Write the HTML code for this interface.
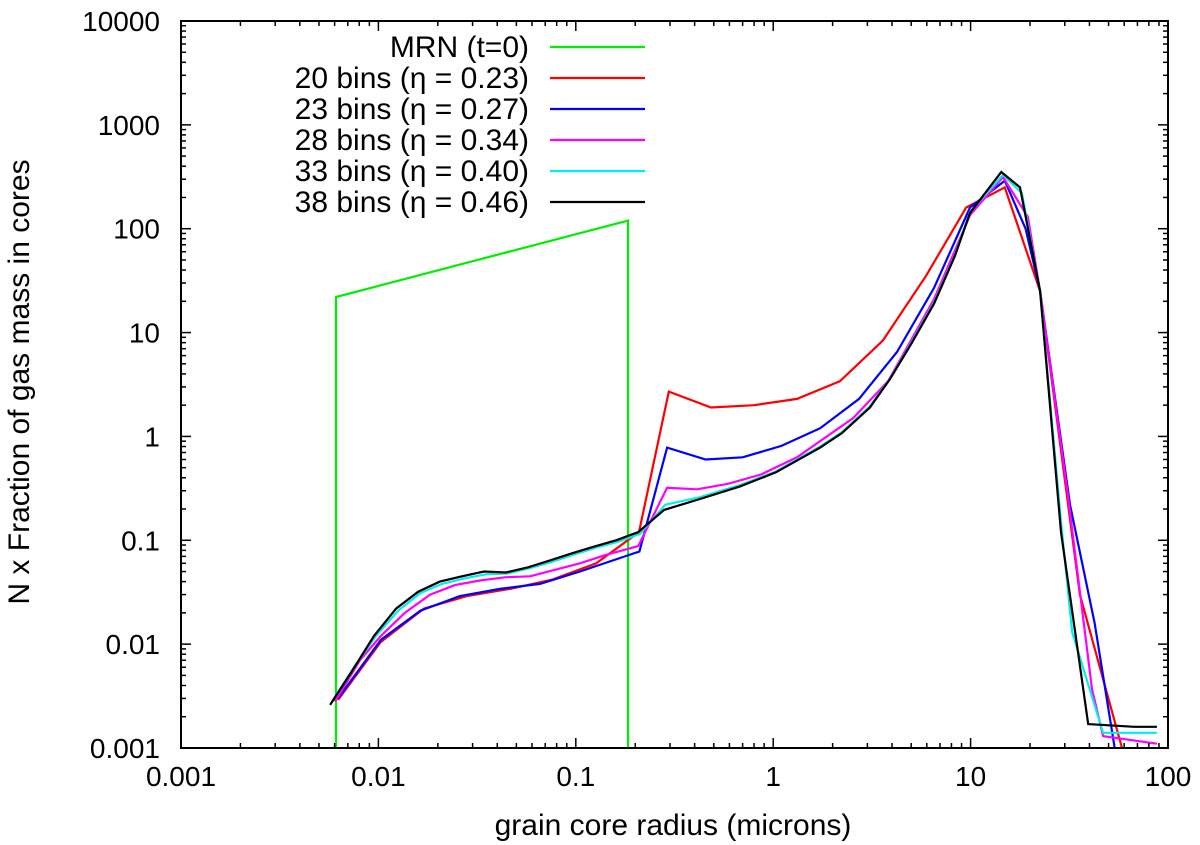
<!DOCTYPE html>
<html><head><meta charset="utf-8"><style>
html,body{margin:0;padding:0;background:#fff;}
svg{display:block;font-family:"Liberation Sans","DejaVu Sans",sans-serif;}
</style></head><body>
<svg id="chart" width="1200" height="845" viewBox="0 0 1200 845" xmlns="http://www.w3.org/2000/svg">
<defs><clipPath id="plotclip"><rect x="181" y="21" width="987" height="727"/></clipPath></defs>
<g id="series" clip-path="url(#plotclip)"></g>
<g id="axes"></g>
<g id="legend"></g>
</svg>
<script>
const xTickLabels = ["0.001","0.01","0.1","1","10","100"];
const yTickLabels = ["0.001","0.01","0.1","1","10","100","1000","10000"];

const mrnX = [0.0061,0.0061,0.184,0.184];
const mrnY = [0.001,22,120,0.001];

const red20X = [0.00624,0.0103,0.0170,0.0281,0.0464,0.0766,0.127,0.209,0.296,0.484,0.80,1.32,2.18,3.6,5.94,9.5,14.9,22.5,35.8,58.5,62.5];
const red20Y = [0.0029,0.0105,0.022,0.029,0.034,0.042,0.06,0.12,2.7,1.9,2.0,2.3,3.4,8.4,35,160,250,25,0.03,0.001,0.0007];

const blue23X = [0.00624,0.0103,0.0163,0.0259,0.0413,0.0659,0.105,0.21,0.29,0.455,0.70,1.10,1.73,2.72,4.24,6.53,9.93,14.9,19.0,22.5,31.9,42.5,53.7,60];
const blue23Y = [0.003,0.011,0.021,0.029,0.034,0.038,0.05,0.078,0.78,0.60,0.63,0.81,1.2,2.3,6.5,27,160,290,100,25,0.22,0.016,0.001,0.0006];

const mag28X = [0.00603,0.00807,0.0103,0.0136,0.0183,0.0244,0.0327,0.0438,0.0586,0.0785,0.105,0.141,0.207,0.290,0.411,0.590,0.867,1.32,2.54,3.82,6.53,9.93,14.6,19.5,22.5,31.1,41.2,46.9,87.9];
const mag28Y = [0.0028,0.007,0.012,0.020,0.030,0.037,0.041,0.044,0.045,0.052,0.06,0.072,0.088,0.32,0.31,0.35,0.43,0.63,1.5,3.4,21,135,315,130,25,0.27,0.0037,0.0013,0.0011];

const cyan33X = [0.00582,0.00752,0.00972,0.0126,0.0163,0.0210,0.0272,0.0351,0.0454,0.0586,0.0757,0.098,0.127,0.164,0.211,0.284,0.426,0.679,1.03,1.73,2.23,3.09,3.91,5.05,6.53,8.34,9.93,14.6,18.2,22.5,28.7,32.7,46.9,87.9];
const cyan33Y = [0.0028,0.006,0.012,0.021,0.031,0.038,0.043,0.047,0.048,0.054,0.062,0.073,0.085,0.097,0.115,0.22,0.26,0.34,0.46,0.80,1.1,1.95,3.6,8.2,19.5,56,145,330,220,25,0.15,0.013,0.0014,0.0014];

const black38X = [0.00569,0.00735,0.00950,0.0123,0.0159,0.0205,0.0265,0.0343,0.0443,0.0573,0.0740,0.0957,0.124,0.160,0.207,0.280,0.426,0.679,1.03,1.73,2.23,3.09,3.91,5.05,6.53,8.34,9.93,14.3,17.8,22.5,28.7,39.4,67.3,87.9];
const black38Y = [0.0026,0.0055,0.012,0.022,0.032,0.040,0.045,0.050,0.049,0.055,0.064,0.075,0.087,0.10,0.12,0.196,0.25,0.33,0.45,0.78,1.08,1.9,3.58,8,19,55,142,352,250,25,0.12,0.0017,0.0016,0.0016];

const L=181,R=1168,T=21,B=748;
const NS="http://www.w3.org/2000/svg";
function xs(v){return L+(Math.log10(v)+3)/5*(R-L);}
function ys(v){return B-(Math.log10(v)+3)/7*(B-T);}
function mk(tag,attrs,parent){const e=document.createElementNS(NS,tag);for(const k in attrs)e.setAttribute(k,attrs[k]);parent.appendChild(e);return e;}

const axes=document.getElementById('axes');
const frame=mk('rect',{x:L,y:T,width:R-L,height:B-T,fill:'none',stroke:'#000','stroke-width':2},axes);



for(let d=0;d<5;d++){
  for(let m=1;m<=9;m++){
    const v=Math.pow(10,d-3)*m; const x=xs(v); const len=m===1?10:5;
    if(m===1&&d===0)continue;
    const t1=mk('line',{x1:x,x2:x,y1:B,y2:B-len,stroke:'#000','stroke-width':1.5},axes);
    
    
    const t2=mk('line',{x1:x,x2:x,y1:T,y2:T+len,stroke:'#000','stroke-width':1.5},axes);
    
    
  }
}
xTickLabels.forEach((lab,i)=>{
  const t=mk('text',{x:xs(Math.pow(10,i-3)),y:786,'font-size':28,'text-anchor':'middle'},axes);
  t.textContent=lab;
  
  
});
for(let d=0;d<7;d++){
  for(let m=1;m<=9;m++){
    const v=Math.pow(10,d-3)*m; const y=ys(v); const len=m===1?10:5;
    if(m===1&&d===0)continue;
    const t1=mk('line',{x1:L,x2:L+len,y1:y,y2:y,stroke:'#000','stroke-width':1.5},axes);
    
    
    const t2=mk('line',{x1:R,x2:R-len,y1:y,y2:y,stroke:'#000','stroke-width':1.5},axes);
    
    
  }
}
yTickLabels.forEach((lab,i)=>{
  const t=mk('text',{x:160,y:ys(Math.pow(10,i-3))+10,'font-size':28,'text-anchor':'end'},axes);
  t.textContent=lab;
  
  
});
const xt=mk('text',{x:673,y:835,'font-size':30,'text-anchor':'middle'},axes);
xt.textContent='grain core radius (microns)';


const yt=mk('text',{x:0,y:0,'font-size':30,'text-anchor':'middle',transform:'translate(29,382) rotate(-90)'},axes);
yt.textContent='N x Fraction of gas mass in cores';



const series=[
 {name:'mrn-line',x:mrnX,y:mrnY,c:'#00ee00',label:'MRN (t=0)'},
 {name:'bins-20-line',x:red20X,y:red20Y,c:'#ff0000',label:'20 bins (η = 0.23)'},
 {name:'bins-23-line',x:blue23X,y:blue23Y,c:'#0000ff',label:'23 bins (η = 0.27)'},
 {name:'bins-28-line',x:mag28X,y:mag28Y,c:'#ff00ff',label:'28 bins (η = 0.34)'},
 {name:'bins-33-line',x:cyan33X,y:cyan33Y,c:'#00eeee',label:'33 bins (η = 0.40)'},
 {name:'bins-38-line',x:black38X,y:black38Y,c:'#000000',label:'38 bins (η = 0.46)'}
];
const sg=document.getElementById('series');
const lg=document.getElementById('legend');
series.forEach((s,i)=>{
  const pts=s.x.map((v,j)=>xs(v).toFixed(1)+','+ys(s.y[j]).toFixed(1)).join(' ');
  const p=mk('polyline',{points:pts,fill:'none',stroke:s.c,'stroke-width':2.2,'stroke-linejoin':'miter'},sg);
  
  
  const yy=47+i*31;
  const t=mk('text',{x:529,y:yy+10,'font-size':30,'text-anchor':'end'},lg);
  t.textContent=s.label;
  
  
  const l=mk('line',{x1:550,x2:645,y1:yy,y2:yy,stroke:s.c,'stroke-width':2.2},lg);
  
  
});
</script>
</body></html>
